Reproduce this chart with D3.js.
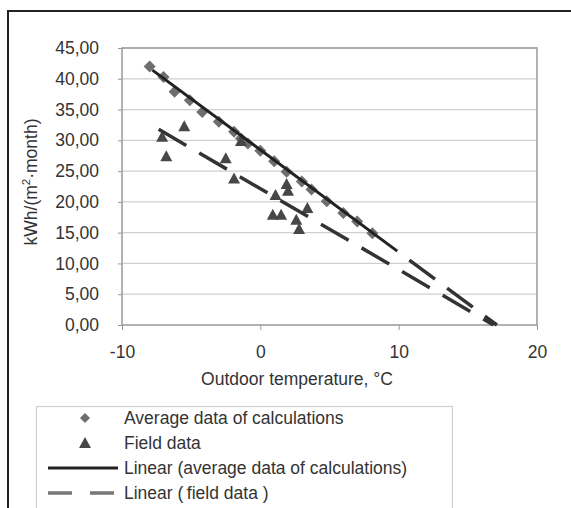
<!DOCTYPE html>
<html>
<head>
<meta charset="utf-8">
<script src="https://cdn.jsdelivr.net/npm/d3@7"></script>
<style>
  body { margin: 0; background: #fff; }
  text { font-family: "Liberation Sans", Arial, sans-serif; fill: #333; }
</style>
</head>
<body>
<svg id="chart" width="571" height="508"></svg>
<script>
// Average data of calculations (diamonds)
const avgTemp = [-8.0, -7.0, -6.2, -5.1, -4.2, -3.0, -1.9, -1.4, -0.9, 0.0, 1.0, 1.9, 3.0, 3.7, 4.8, 6.0, 7.0, 8.1];
const avgKwh = [42.0, 40.3, 37.9, 36.5, 34.6, 33.0, 31.4, 30.3, 29.5, 28.3, 26.6, 24.9, 23.3, 22.0, 20.1, 18.2, 16.8, 14.9];

// Field data (triangles)
const fieldTemp = [-7.1, -6.8, -5.5, -2.5, -1.9, -1.4, 1.9, 2.0, 1.1, 0.9, 1.5, 2.6, 2.8, 3.4];
const fieldKwh = [30.6, 27.4, 32.3, 27.1, 23.8, 29.9, 22.9, 21.8, 21.1, 17.9, 17.9, 17.1, 15.6, 19.0];

// Linear trend lines: start, end of solid part, end of forecast
const avgTrendTemp = [-7.8, 9.9, 17.1];
const avgTrendKwh = [41.4, 12.0, 0.0];
const fieldTrendTemp = [-7.35, 16.85];
const fieldTrendKwh = [31.8, 0.0];

const xTicks = [-10, 0, 10, 20];
const yTicks = [0, 5, 10, 15, 20, 25, 30, 35, 40, 45];

const legendLabels = [
  "Average data of calculations",
  "Field data",
  "Linear (average data of calculations)",
  "Linear (\u2009field data )"
];

const svg = d3.select("#chart");

var xScale = d3.scaleLinear().domain([-10, 20]).range([122, 537]);
var yScale = d3.scaleLinear().domain([0, 45]).range([325, 48]);

// outer frame (cut off at right and bottom)
svg.append("path")
  .attr("d", "M8,520 V11 H580")
  .attr("fill", "none")
  .attr("stroke", "#222")
  .attr("stroke-width", 2);

// gridlines
svg.append("g")
  .selectAll("line")
  .data(yTicks.filter((d) => d > 0))
  .enter()
  .append("line")
  .attr("x1", xScale(-10))
  .attr("x2", xScale(20))
  .attr("y1", (d) => yScale(d))
  .attr("y2", (d) => yScale(d))
  .attr("stroke", "#cfcfcf")
  .attr("stroke-width", 1.2);

// plot border
svg.append("rect")
  .attr("x", xScale(-10))
  .attr("y", yScale(45))
  .attr("width", xScale(20) - xScale(-10))
  .attr("height", yScale(0) - yScale(45))
  .attr("fill", "none")
  .attr("stroke", "#999")
  .attr("stroke-width", 1.5);

// y axis
var yAxis = svg.append("g")
  .attr("transform", "translate(" + xScale(-10) + ",0)")
  .call(d3.axisLeft(yScale)
    .tickValues(yTicks)
    .tickSize(4)
    .tickPadding(19)
    .tickFormat((d) => d3.format(".2f")(d).replace(".", ",")));
yAxis.select(".domain").remove();
yAxis.selectAll("line").attr("stroke", "#999");
yAxis.selectAll("text").style("font-size", "17.5px").attr("fill", "#333");

// x axis (plain hyphen for negatives)
var xAxis = svg.append("g")
  .attr("transform", "translate(0," + yScale(0) + ")")
  .call(d3.axisBottom(xScale).tickValues(xTicks).tickSize(5).tickPadding(16)
    .tickFormat((d) => String(d)));
xAxis.select(".domain").remove();
xAxis.selectAll("line").attr("stroke", "#999");
xAxis.selectAll("text").style("font-size", "17.5px").attr("fill", "#333");

// axis titles
svg.append("text")
  .attr("transform", "translate(37,182) rotate(-90)")
  .attr("text-anchor", "middle")
  .style("font-size", "17.5px")
  .html('kWh/(m<tspan dy="-7" font-size="11.5px">2</tspan><tspan dy="7">\u00b7month)</tspan>');

svg.append("text")
  .attr("x", 297)
  .attr("y", 385)
  .attr("text-anchor", "middle")
  .style("font-size", "17.5px")
  .text("Outdoor temperature, \u00b0C");

// marker shapes
const diamondPath = "M0,-6L6,0L0,6L-6,0Z";
const trianglePath = "M0,-6L6,5L-6,5Z";

// diamonds
svg.append("g")
  .selectAll("path")
  .data(avgTemp.map((t, i) => ({ x: t, y: avgKwh[i] })))
  .enter()
  .append("path")
  .attr("d", diamondPath)
  .attr("transform", (d) => "translate(" + xScale(d.x) + "," + yScale(d.y) + ")")
  .attr("fill", "#6e6e6e");

// triangles
svg.append("g")
  .selectAll("path")
  .data(fieldTemp.map((t, i) => ({ x: t, y: fieldKwh[i] })))
  .enter()
  .append("path")
  .attr("d", trianglePath)
  .attr("transform", (d) => "translate(" + xScale(d.x) + "," + yScale(d.y) + ")")
  .attr("fill", "#474747");

var line = d3.line()
  .x((d) => xScale(d.x))
  .y((d) => yScale(d.y));

// field data trend (dashed)
svg.append("path")
  .attr("d", line(fieldTrendTemp.map((t, i) => ({ x: t, y: fieldTrendKwh[i] }))))
  .attr("fill", "none")
  .attr("stroke", "#333")
  .attr("stroke-width", 3.5)
  .attr("stroke-dasharray", "32,15");

// average trend: solid part, then dashed forecast
var avgPts = avgTrendTemp.map((t, i) => ({ x: t, y: avgTrendKwh[i] }));
svg.append("path")
  .attr("d", line(avgPts.slice(0, 2)))
  .attr("fill", "none")
  .attr("stroke", "#222")
  .attr("stroke-width", 3);
svg.append("path")
  .attr("d", line(avgPts.slice(1)))
  .attr("fill", "none")
  .attr("stroke", "#333")
  .attr("stroke-width", 3.5)
  .attr("stroke-dasharray", "0,15,32,0");

// legend
var legend = svg.append("g");
legend.append("rect")
  .attr("x", 36.5)
  .attr("y", 406.5)
  .attr("width", 416)
  .attr("height", 130)
  .attr("fill", "#fff")
  .attr("stroke", "#cfcfcf")
  .attr("stroke-width", 1.2);

var rowY = (i) => 418 + i * 25;

legend.selectAll("text")
  .data(legendLabels)
  .enter()
  .append("text")
  .attr("x", 124)
  .attr("y", (d, i) => rowY(i))
  .attr("dy", "0.35em")
  .style("font-size", "17.5px")
  .text((d) => d);

legend.append("path")
  .attr("d", "M0,-5L5,0L0,5L-5,0Z")
  .attr("transform", "translate(85," + rowY(0) + ")")
  .attr("fill", "#6e6e6e");
legend.append("path")
  .attr("d", trianglePath)
  .attr("transform", "translate(85," + rowY(1) + ")")
  .attr("fill", "#474747");
legend.append("line")
  .attr("x1", 48).attr("x2", 118)
  .attr("y1", rowY(2)).attr("y2", rowY(2))
  .attr("stroke", "#222")
  .attr("stroke-width", 3);
legend.append("line")
  .attr("x1", 48).attr("x2", 118)
  .attr("y1", rowY(3)).attr("y2", rowY(3))
  .attr("stroke", "#777")
  .attr("stroke-width", 3.5)
  .attr("stroke-dasharray", "24,18");
</script>
</body>
</html>
